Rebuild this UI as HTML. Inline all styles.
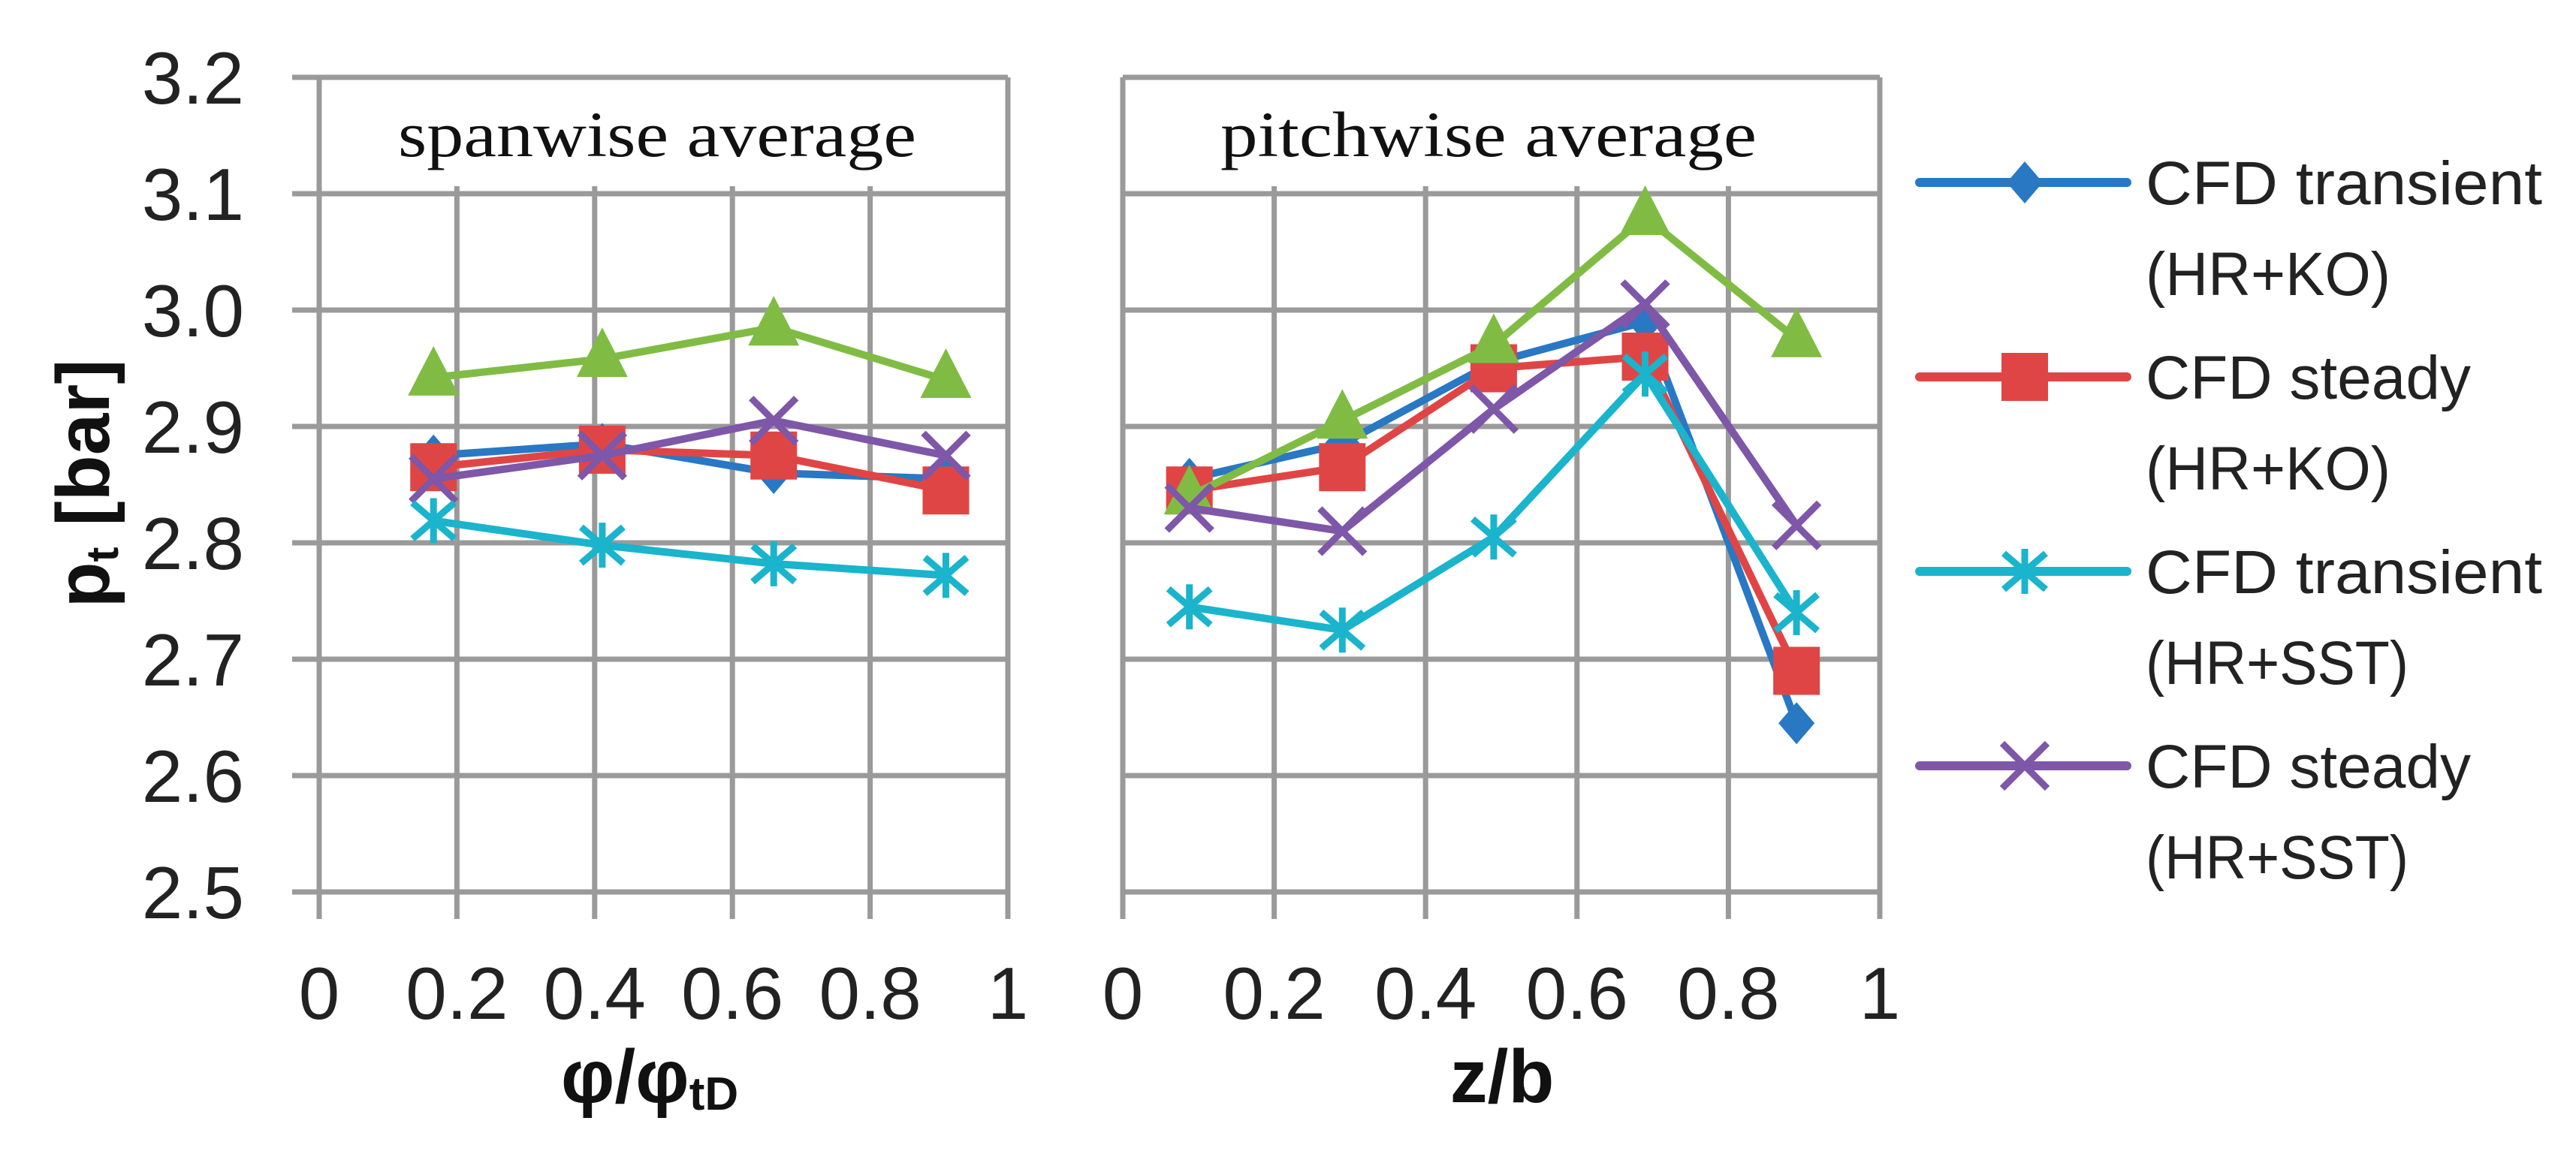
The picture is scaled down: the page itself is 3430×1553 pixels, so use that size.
<!DOCTYPE html>
<html><head><meta charset="utf-8"><style>
html,body{margin:0;padding:0;background:#fff;}
svg{display:block;}
</style></head><body>
<svg id="chart" xmlns="http://www.w3.org/2000/svg" width="3430" height="1553" viewBox="0 0 3430 1553">
<rect x="0" y="0" width="3430" height="1553" fill="#fff"/>
<g id="grid"></g>
<g id="series"></g>
<g id="labels"></g>
<g id="legend"></g>
</svg>
<script>
const yTicks = [2.5, 2.6, 2.7, 2.8, 2.9, 3.0, 3.1, 3.2];
const yTickLabels = ["2.5","2.6","2.7","2.8","2.9","3.0","3.1","3.2"];
const xTicks = [0, 0.2, 0.4, 0.6, 0.8, 1];
const xTickLabels = ["0","0.2","0.4","0.6","0.8","1"];

const spanX = [0.166, 0.411, 0.66, 0.91];
const spanBlue = [2.875, 2.885, 2.86, 2.855];
const spanRed = [2.865, 2.88, 2.875, 2.845];
const spanGreen = [2.942, 2.958, 2.985, 2.94];
const spanPurple = [2.855, 2.875, 2.905, 2.875];
const spanCyan = [2.819, 2.798, 2.782, 2.772];

const pitchX = [0.088, 0.29, 0.49, 0.69, 0.89];
const pitchBlue = [2.855, 2.885, 2.955, 2.99, 2.645];
const pitchRed = [2.845, 2.865, 2.95, 2.96, 2.69];
const pitchGreen = [2.84, 2.905, 2.97, 3.08, 2.975];
const pitchPurple = [2.83, 2.81, 2.915, 3.005, 2.815];
const pitchCyan = [2.745, 2.725, 2.805, 2.945, 2.74];

const legendLabels1 = ["CFD transient","CFD steady","CFD transient","CFD steady"];
const legendLabels2 = ["(HR+KO)","(HR+KO)","(HR+SST)","(HR+SST)"];

const NS = "http://www.w3.org/2000/svg";
const Y0 = 413, YPER = 1550;
function yS(v){ return Y0 - (v - 3.0) * YPER; }
const panels = [
  {x0:425, w:917, stub:36, labels:true, title:"spanwise average", tx:530, tw:690, name:"spanwise"},
  {x0:1495, w:1008, stub:0, labels:false, title:"pitchwise average", tx:1625, tw:714, name:"pitchwise"}
];
function mk(tag, attrs, parent){
  const e = document.createElementNS(NS, tag);
  for (const k in attrs) e.setAttribute(k, attrs[k]);
  parent.appendChild(e);
  return e;
}
const grid = document.getElementById('grid');
const labels = document.getElementById('labels');
const seriesG = document.getElementById('series');
const GC = "#9a9a9a";
panels.forEach(p => {
  const xS = v => p.x0 + v * p.w;
  yTicks.forEach((t, i) => {
    const l = mk('line', {x1:p.x0 - p.stub, x2:p.x0 + p.w, y1:yS(t), y2:yS(t), stroke:GC, 'stroke-width':7}, grid);
    
    
    if (p.labels) {
      const tx = mk('text', {x:325, y:yS(t) + 35, 'text-anchor':'end', 'font-family':'Liberation Sans, sans-serif', 'font-size':98, fill:'#222'}, labels);
      tx.textContent = yTickLabels[i];
      
      
    }
  });
  xTicks.forEach((t, i) => {
    const edge = (i === 0 || i === xTicks.length - 1);
    const l = mk('line', {x1:xS(t), x2:xS(t), y1: edge ? yS(3.2) : yS(3.1) - 10, y2:1224, stroke:GC, 'stroke-width':7}, grid);
    
    
    const tx = mk('text', {x:xS(t), y:1357, 'text-anchor':'middle', 'font-family':'Liberation Sans, sans-serif', 'font-size':98, fill:'#222'}, labels);
    tx.textContent = xTickLabels[i];
    
    
  });
  const tt = mk('text', {x:p.tx, y:208, 'font-family':'Liberation Serif, serif', 'font-size':86, fill:'#111', textLength:p.tw, lengthAdjust:'spacingAndGlyphs'}, labels);
  tt.textContent = p.title;
  
  
});

const C = {blue:"#2878c4", red:"#e04545", green:"#80bc44", purple:"#7e57a8", cyan:"#1ab4cc"};
function marker(kind, cx, cy, col, parent, nm){
  let e;
  if (kind === 'diamond') {
    e = mk('polygon', {points:`${cx},${cy-28} ${cx+24},${cy} ${cx},${cy+28} ${cx-24},${cy}`, fill:col}, parent);
  } else if (kind === 'square') {
    e = mk('rect', {x:cx-31, y:cy-32, width:62, height:64, fill:col}, parent);
  } else if (kind === 'triangle') {
    e = mk('polygon', {points:`${cx},${cy-42} ${cx+34},${cy+24} ${cx-34},${cy+24}`, fill:col}, parent);
  } else if (kind === 'x') {
    e = mk('path', {d:`M${cx-30},${cy-30}L${cx+30},${cy+30}M${cx-30},${cy+30}L${cx+30},${cy-30}`, stroke:col, 'stroke-width':9, fill:'none'}, parent);
  } else {
    e = mk('path', {d:`M${cx-28},${cy-24}L${cx+28},${cy+24}M${cx-28},${cy+24}L${cx+28},${cy-24}M${cx},${cy-30}L${cx},${cy+30}`, stroke:col, 'stroke-width':9, fill:'none'}, parent);
  }
  
  
}
function drawSeries(p, xs, ys, col, kind, nm){
  const xS = v => p.x0 + v * p.w;
  const pts = xs.map((x, i) => xS(x) + ',' + yS(ys[i])).join(' ');
  const pl = mk('polyline', {points:pts, fill:'none', stroke:col, 'stroke-width':10, 'stroke-linejoin':'round'}, seriesG);
  
  
  xs.forEach((x, i) => marker(kind, xS(x), yS(ys[i]), col, seriesG, nm + '-point'));
}
const P0 = panels[0], P1 = panels[1];
drawSeries(P0, spanX, spanBlue, C.blue, 'diamond', 'spanwise-cfd-transient-ko');
drawSeries(P0, spanX, spanRed, C.red, 'square', 'spanwise-cfd-steady-ko');
drawSeries(P0, spanX, spanGreen, C.green, 'triangle', 'spanwise-experiment');
drawSeries(P0, spanX, spanPurple, C.purple, 'x', 'spanwise-cfd-steady-sst');
drawSeries(P0, spanX, spanCyan, C.cyan, 'star', 'spanwise-cfd-transient-sst');
drawSeries(P1, pitchX, pitchBlue, C.blue, 'diamond', 'pitchwise-cfd-transient-ko');
drawSeries(P1, pitchX, pitchRed, C.red, 'square', 'pitchwise-cfd-steady-ko');
drawSeries(P1, pitchX, pitchGreen, C.green, 'triangle', 'pitchwise-experiment');
drawSeries(P1, pitchX, pitchPurple, C.purple, 'x', 'pitchwise-cfd-steady-sst');
drawSeries(P1, pitchX, pitchCyan, C.cyan, 'star', 'pitchwise-cfd-transient-sst');

// axis titles
const yt = mk('text', {x:0, y:0, transform:'translate(145,644) rotate(-90)', 'text-anchor':'middle', 'font-family':'Liberation Sans, sans-serif', 'font-size':100, 'font-weight':'bold', fill:'#111'}, labels);
yt.innerHTML = 'p<tspan font-size="60" dy="12">t</tspan><tspan dy="-12"> [bar]</tspan>';


const xt1 = mk('text', {x:865, y:1468, 'text-anchor':'middle', 'font-family':'Liberation Sans, sans-serif', 'font-size':100, 'font-weight':'bold', fill:'#111'}, labels);
xt1.innerHTML = 'φ/φ<tspan font-size="62" dy="10">tD</tspan>';


const xt2 = mk('text', {x:2000, y:1468, 'text-anchor':'middle', 'font-family':'Liberation Sans, sans-serif', 'font-size':100, 'font-weight':'bold', fill:'#111'}, labels);
xt2.textContent = 'z/b';



// legend
const legend = document.getElementById('legend');
const legCols = [C.blue, C.red, C.cyan, C.purple];
const legKinds = ['diamond', 'square', 'star', 'x'];
const legW1 = [528, 433, 528, 433];
const legW2 = [326, 326, 350, 350];
legendLabels1.forEach((lab, i) => {
  const cy = 243 + i * 259;
  const ln = mk('line', {x1:2556, x2:2832, y1:cy, y2:cy, stroke:legCols[i], 'stroke-width':12, 'stroke-linecap':'round'}, legend);
  
  
  marker(legKinds[i], 2696, cy, legCols[i], legend, 'legend-marker');
  const t1 = mk('text', {x:2857, y:cy + 29, 'font-family':'Liberation Sans, sans-serif', 'font-size':82, fill:'#222', textLength:legW1[i], lengthAdjust:'spacingAndGlyphs'}, legend);
  t1.textContent = lab;
  
  
  const t2 = mk('text', {x:2857, y:cy + 150, 'font-family':'Liberation Sans, sans-serif', 'font-size':82, fill:'#222', textLength:legW2[i], lengthAdjust:'spacingAndGlyphs'}, legend);
  t2.textContent = legendLabels2[i];
  
  
});
</script>
</body></html>
